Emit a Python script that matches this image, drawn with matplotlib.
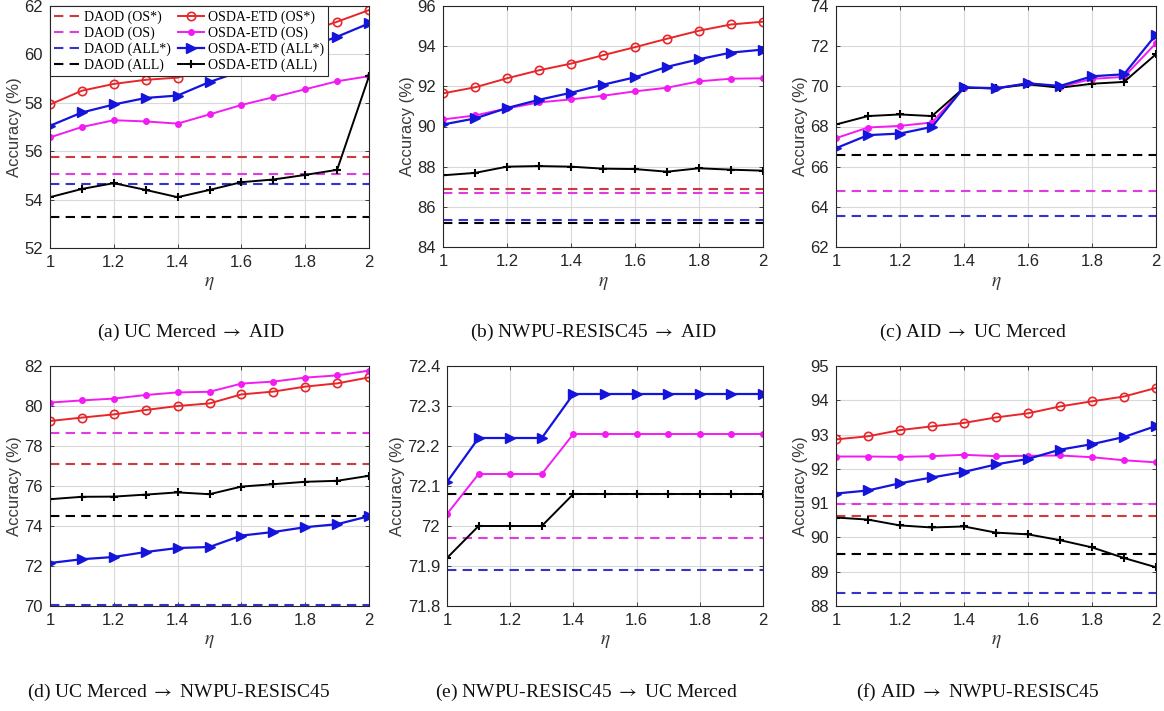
import matplotlib
matplotlib.use("Agg")
import matplotlib.pyplot as plt

# ── Data ─────────────────────────────────────────────────────────────────────
eta = [1.0, 1.1, 1.2, 1.3, 1.4, 1.5, 1.6, 1.7, 1.8, 1.9, 2.0]

# (a) UC Merced -> AID
a_os_star  = [57.93, 58.50, 58.78, 58.95, 59.04, 59.45, 59.90, 60.40, 60.90, 61.35, 61.83]
a_os       = [56.57, 57.00, 57.28, 57.23, 57.14, 57.52, 57.91, 58.23, 58.56, 58.89, 59.10]
a_all_star = [57.05, 57.60, 57.93, 58.20, 58.30, 58.86, 59.31, 59.80, 60.25, 60.73, 61.28]
a_all      = [54.10, 54.44, 54.68, 54.40, 54.10, 54.40, 54.72, 54.83, 55.02, 55.23, 59.10]
a_daod     = [55.78, 55.05, 54.65, 53.27]          # OS*, OS, ALL*, ALL

# (b) NWPU-RESISC45 -> AID
b_os_star  = [91.65, 91.95, 92.40, 92.80, 93.13, 93.55, 93.95, 94.37, 94.77, 95.08, 95.22]
b_os       = [90.35, 90.55, 90.90, 91.20, 91.35, 91.53, 91.75, 91.93, 92.25, 92.38, 92.40]
b_all_star = [90.10, 90.40, 90.92, 91.33, 91.68, 92.08, 92.45, 92.97, 93.35, 93.68, 93.83]
b_all      = [87.57, 87.69, 88.00, 88.03, 88.00, 87.90, 87.88, 87.75, 87.92, 87.85, 87.80]
b_daod     = [86.90, 86.70, 85.35, 85.20]

# (c) AID -> UC Merced  (OS* curves fall outside the plotted range)
c_os_star  = None
c_os       = [67.42, 67.95, 68.03, 68.20, 69.93, 69.90, 70.15, 69.97, 70.37, 70.47, 72.15]
c_all_star = [66.92, 67.57, 67.65, 67.98, 69.95, 69.90, 70.15, 70.02, 70.50, 70.60, 72.57]
c_all      = [68.10, 68.52, 68.60, 68.52, 69.93, 69.90, 70.10, 69.93, 70.13, 70.22, 71.60]
c_daod     = [None, 64.77, 63.55, 66.58]

# (d) UC Merced -> NWPU-RESISC45
d_os_star  = [79.25, 79.42, 79.58, 79.80, 80.00, 80.13, 80.58, 80.72, 80.97, 81.13, 81.43]
d_os       = [80.17, 80.28, 80.37, 80.55, 80.68, 80.71, 81.12, 81.22, 81.42, 81.53, 81.77]
d_all_star = [72.15, 72.34, 72.45, 72.70, 72.90, 72.95, 73.52, 73.70, 73.94, 74.09, 74.49]
d_all      = [75.34, 75.46, 75.47, 75.57, 75.68, 75.59, 75.97, 76.09, 76.21, 76.26, 76.51]
d_daod     = [77.12, 78.63, 70.07, 74.48]

# (e) NWPU-RESISC45 -> UC Merced  (OS* curves fall outside the plotted range)
e_os_star  = None
e_os       = [72.03, 72.13, 72.13, 72.13, 72.23, 72.23, 72.23, 72.23, 72.23, 72.23, 72.23]
e_all_star = [72.11, 72.22, 72.22, 72.22, 72.33, 72.33, 72.33, 72.33, 72.33, 72.33, 72.33]
e_all      = [71.92, 72.00, 72.00, 72.00, 72.08, 72.08, 72.08, 72.08, 72.08, 72.08, 72.08]
e_daod     = [None, 71.97, 71.89, 72.08]

# (f) AID -> NWPU-RESISC45
f_os_star  = [92.86, 92.95, 93.13, 93.24, 93.34, 93.50, 93.62, 93.82, 93.97, 94.11, 94.36]
f_os       = [92.36, 92.36, 92.35, 92.37, 92.41, 92.37, 92.38, 92.39, 92.34, 92.25, 92.19]
f_all_star = [91.28, 91.37, 91.58, 91.75, 91.91, 92.13, 92.29, 92.56, 92.72, 92.93, 93.25]
f_all      = [90.58, 90.52, 90.35, 90.29, 90.32, 90.14, 90.09, 89.92, 89.71, 89.40, 89.13]
f_daod     = [90.62, 90.98, 88.38, 89.52]

captions = [
    r"(a) UC Merced $\rightarrow$ AID",
    r"(b) NWPU-RESISC45 $\rightarrow$ AID",
    r"(c) AID $\rightarrow$ UC Merced",
    r"(d) UC Merced $\rightarrow$ NWPU-RESISC45",
    r"(e) NWPU-RESISC45 $\rightarrow$ UC Merced",
    r"(f) AID $\rightarrow$ NWPU-RESISC45",
]
yticks_all = [
    [52, 54, 56, 58, 60, 62],
    [84, 86, 88, 90, 92, 94, 96],
    [62, 64, 66, 68, 70, 72, 74],
    [70, 72, 74, 76, 78, 80, 82],
    [71.8, 71.9, 72.0, 72.1, 72.2, 72.3, 72.4],
    [88, 89, 90, 91, 92, 93, 94, 95],
]
xticks = [1, 1.2, 1.4, 1.6, 1.8, 2]

# ── Styling ──────────────────────────────────────────────────────────────────
plt.rcParams["font.family"] = ["Liberation Sans", "DejaVu Sans"]
plt.rcParams["mathtext.fontset"] = "stix"

RED, MAG, BLUE, BLK = "#e8262a", "#f21cf2", "#1414dc", "#000000"
DRED, DMAG, DBLUE = "#cf3b3b", "#e03ae0", "#3434c8"
AXC = "#262626"
SERIF = ["Liberation Serif", "DejaVu Serif"]

W, H = 1164, 711
def rect(l, r, t, b):
    return [l / W, 1 - b / H, (r - l) / W, (b - t) / H]

rects = [
    rect(50, 369, 6, 248), rect(443, 763, 6, 247), rect(836, 1156, 6, 247),
    rect(50, 369, 366, 606), rect(447, 763, 366, 606), rect(836, 1156, 366, 606),
]
cap_pos = [(191, 332), (593, 332), (973, 332), (179, 692), (586, 692), (978, 692)]

panels = [
    (a_os_star, a_os, a_all_star, a_all, a_daod),
    (b_os_star, b_os, b_all_star, b_all, b_daod),
    (c_os_star, c_os, c_all_star, c_all, c_daod),
    (d_os_star, d_os, d_all_star, d_all, d_daod),
    (e_os_star, e_os, e_all_star, e_all, e_daod),
    (f_os_star, f_os, f_all_star, f_all, f_daod),
]

fig = plt.figure(figsize=(W / 100, H / 100), dpi=100)

for k, (os_star, os_, all_star, all_, daod) in enumerate(panels):
    ax = fig.add_axes(rects[k])
    dash_cols = [DRED, DMAG, DBLUE, BLK]
    dash_labels = ["DAOD (OS*)", "DAOD (OS)", "DAOD (ALL*)", "DAOD (ALL)"]
    dh = []
    for v, c, lab in zip(daod, dash_cols, dash_labels):
        if v is None:
            h, = ax.plot([], [], color=c, lw=1.5, dashes=(4.5, 3), label=lab)
        else:
            h, = ax.plot([eta[0], eta[-1]], [v, v], color=c, lw=1.5,
                         dashes=(4.5, 3), label=lab)
        dh.append(h)

    red_style = dict(color=RED, lw=1.4, marker="o", ms=6, mfc="none",
                     mec=RED, mew=1.2, label="OSDA-ETD (OS*)")
    if os_star is not None:
        h_os_star, = ax.plot(eta, os_star, **red_style)
    else:
        h_os_star, = ax.plot([], [], **red_style)
    h_os, = ax.plot(eta, os_, color=MAG, lw=1.4, marker="o", ms=4,
                    mfc=MAG, mec=MAG, label="OSDA-ETD (OS)")
    h_all, = ax.plot(eta, all_, color=BLK, lw=1.4, marker="+", ms=6,
                     mew=1.5, label="OSDA-ETD (ALL)")
    h_all_star, = ax.plot(eta, all_star, color=BLUE, lw=1.6, marker=">", ms=7,
                          mfc=BLUE, mec=BLUE, label="OSDA-ETD (ALL*)")

    yt = yticks_all[k]
    ax.set_xlim(1, 2)
    ax.set_ylim(yt[0], yt[-1])
    ax.set_xticks(xticks)
    ax.set_xticklabels(["1", "1.2", "1.4", "1.6", "1.8", "2"])
    ax.set_yticks(yt)
    ax.set_yticklabels([f"{v:g}" for v in yt])
    ax.grid(True, color="#d9d9d9", lw=0.8)
    ax.set_axisbelow(True)
    for s in ax.spines.values():
        s.set_color(AXC)
        s.set_linewidth(0.8)
    ax.tick_params(direction="in", length=3, width=0.6, colors=AXC,
                   labelsize=12, top=True, right=True, pad=5)
    ax.set_ylabel("Accuracy (%)", fontsize=12, color="#3a3a3a", labelpad=2)
    ax.set_xlabel(r"$\eta$", fontsize=14, color="#3a3a3a", labelpad=4)

    if k == 0:
        handles = dh + [h_os_star, h_os, h_all_star, h_all]
        leg = ax.legend(handles=handles, ncol=2, loc="upper left",
                        bbox_to_anchor=(0, 1), borderaxespad=0,
                        prop={"family": SERIF, "size": 10},
                        frameon=True, fancybox=False, framealpha=1,
                        edgecolor=AXC, handlelength=1.9, handletextpad=0.25,
                        columnspacing=0.5, labelspacing=0.18,
                        borderpad=0.3)
        leg.get_frame().set_linewidth(0.8)

    cx, cy = cap_pos[k]
    fig.text(cx / W, 1 - cy / H, captions[k], ha="center", va="center",
             fontsize=14, family=SERIF, color="#111111")

fig.savefig("out.png", dpi=100)
